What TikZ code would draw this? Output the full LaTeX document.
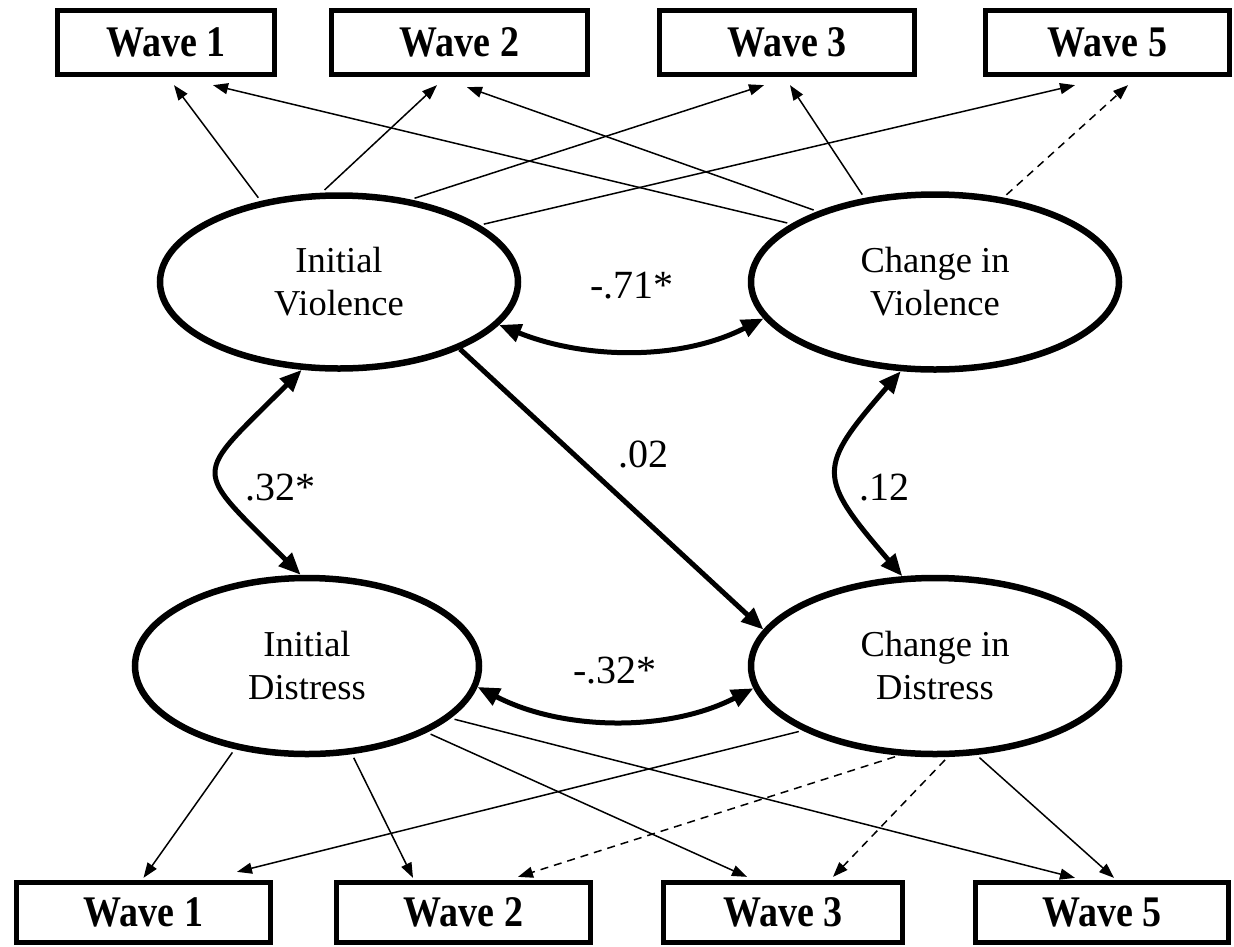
\documentclass[tikz,border=0pt]{standalone}
\usepackage{graphicx}
\usepackage{fontspec}
\setmainfont{Liberation Serif}
\usetikzlibrary{calc,shapes.geometric,arrows.meta}

\newcommand{\wavelabel}[1]{\scalebox{1}[1.15]{#1}}
\tikzset{
  wavebox/.style={draw,line width=4.8pt,inner sep=0pt,font=\fontsize{38}{40}\selectfont\bfseries},
  factor/.style={draw,ellipse,line width=6.5pt,inner sep=0pt,align=center,font=\fontsize{36.5}{43}\selectfont},
  load/.style={line width=1.5pt,shorten <=4pt,-{Triangle[length=15pt,width=11pt]}},
  fixed/.style={dash pattern=on 8pt off 6pt},
  cov/.style={line width=5pt,{Triangle[length=22pt,width=18pt]}-{Triangle[length=22pt,width=18pt]}},
  reg/.style={line width=5pt,-{Triangle[length=22pt,width=18pt]}},
  coef/.style={inner sep=0pt,anchor=base west,font=\fontsize{40}{40}\selectfont}
}

\begin{document}
\begin{tikzpicture}[x=1pt,y=1pt,yscale=-1,xscale=1]
\useasboundingbox (0,0) rectangle (1234,946);
%Indicators: top row
\node[wavebox,minimum width=217.5pt,minimum height=64.5pt] (t1) at (166,42.5) {\wavelabel{Wave 1}};
\node[wavebox,minimum width=256.5pt,minimum height=64.5pt] (t2) at (459.5,42.5) {\wavelabel{Wave 2}};
\node[wavebox,minimum width=255.5pt,minimum height=64.5pt] (t3) at (787,42.5) {\wavelabel{Wave 3}};
\node[wavebox,minimum width=244.5pt,minimum height=64.5pt] (t5) at (1107.5,42.5) {\wavelabel{Wave 5}};
%Indicators: bottom row
\node[wavebox,minimum width=254.5pt,minimum height=60.5pt] (b1) at (143.5,912.5) {\wavelabel{Wave 1}};
\node[wavebox,minimum width=254.5pt,minimum height=60.5pt] (b2) at (463.5,912.5) {\wavelabel{Wave 2}};
\node[wavebox,minimum width=239.5pt,minimum height=60.5pt] (b3) at (783,912.5) {\wavelabel{Wave 3}};
\node[wavebox,minimum width=253.5pt,minimum height=60.5pt] (b5) at (1102,912.5) {\wavelabel{Wave 5}};
%Latent factors
\node[factor,minimum width=358pt,minimum height=173pt] (iv) at (339,282) {Initial\\Violence};
\node[factor,minimum width=368pt,minimum height=175pt] (cv) at (935,282) {Change in\\Violence};
\node[factor,minimum width=344pt,minimum height=176pt] (id) at (307,666) {Initial\\Distress};
\node[factor,minimum width=368pt,minimum height=176pt] (cd) at (935,666) {Change in\\Distress};
%Loadings: violence
\draw[load] (iv.134) -- ($(t1.south)+(8,8)$);
\draw[load] (cv.158) -- ($(t1.south)+(47,8)$);
\draw[load] (iv.101) -- ($(t2.south)+(-22.5,8)$);
\draw[load] (cv.149) -- ($(t2.south)+(7.5,10)$);
\draw[load] (iv.49) -- ($(t3.south)+(-23,8)$);
\draw[load] (cv.130) -- ($(t3.south)+(3,8)$);
\draw[load] (iv.22) -- ($(t5.south)+(-32.5,8)$);
\draw[load,fixed] (cv.51) -- ($(t5.south)+(20.5,8)$);
%Loadings: distress
\draw[load] (id.229) -- ($(b1.north)+(0,-2)$);
\draw[load] (cd.206) -- ($(b1.north)+(93.5,-8)$);
\draw[load] (id.297) -- ($(b2.north)+(-50.5,-2)$);
\draw[load,fixed] (cd.248) -- ($(b2.north)+(54.5,-3)$);
\draw[load] (id.331) -- ($(b3.north)+(-36,-3)$);
\draw[load,fixed] (cd.278) -- ($(b3.north)+(50,-3)$);
\draw[load] (id.340) -- ($(b5.north)+(-27,-2)$);
\draw[load] (cd.295) -- ($(b5.north)+(12,-2)$);
%Structural paths
\draw[cov] (iv.345) .. controls +(87,35) and +(-82,42) .. (cv.192);
\draw[cov] (id.353) .. controls +(85,44) and +(-85,44) .. (cd.187);
\draw[cov] (iv.247) .. controls +(-110,110) and +(-110,-110) .. (id.94);
\draw[cov] (cv.249) .. controls +(-84,97) and +(-86,-100) .. (cd.110);
\draw[reg] (iv.331) -- (cd.168);
%Coefficients
\node[coef] (r1) at (590,298) {-.71*};
\node[coef] (r2) at (245,500) {.32*};
\node[coef] (r3) at (618,467) {.02};
\node[coef] (r4) at (859,500) {.12};
\node[coef] (r5) at (573,683) {-.32*};
\end{tikzpicture}
\end{document}
